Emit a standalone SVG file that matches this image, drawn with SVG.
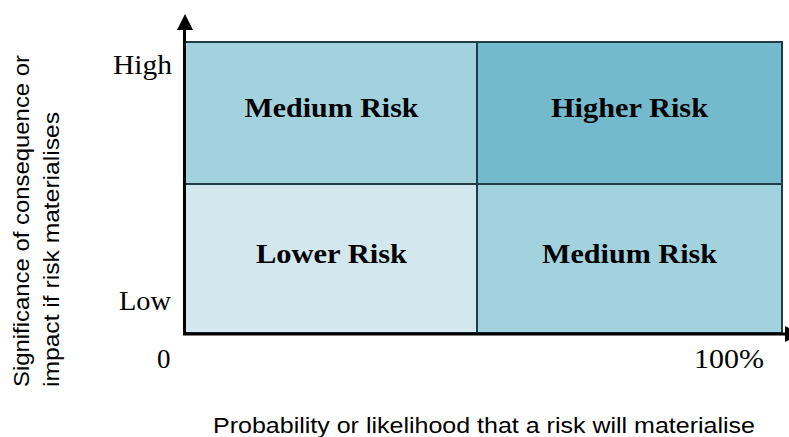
<svg xmlns="http://www.w3.org/2000/svg" width="789" height="437" viewBox="0 0 789 437">
<style>
.cell{stroke:#1e3d47;stroke-width:2}
.lbl{font-family:"Liberation Serif",serif;font-weight:bold;font-size:28px;fill:#000;text-anchor:middle}
.tick{font-family:"Liberation Serif",serif;font-size:27px;fill:#000}
.ttl{font-family:"Liberation Sans",sans-serif;font-size:22px;fill:#000}
.axis{stroke:#000;stroke-width:3;fill:none}
</style>
<rect width="789" height="437" fill="#fff"/>
<g id="cell-tl"><rect class="cell" x="185" y="42" width="292" height="142" fill="#a3d2df"/><text class="lbl" x="331.5" y="117" textLength="174" lengthAdjust="spacingAndGlyphs">Medium Risk</text></g>
<g id="cell-tr"><rect class="cell" x="477" y="42" width="305" height="142" fill="#73bacd"/><text class="lbl" x="629.5" y="117" textLength="157" lengthAdjust="spacingAndGlyphs">Higher Risk</text></g>
<g id="cell-bl"><rect class="cell" x="185" y="184" width="292" height="149" fill="#d2e8ee"/><text class="lbl" x="331.5" y="263" textLength="151" lengthAdjust="spacingAndGlyphs">Lower Risk</text></g>
<g id="cell-br"><rect class="cell" x="477" y="184" width="305" height="149" fill="#a3d2df"/><text class="lbl" x="629.5" y="263" textLength="175" lengthAdjust="spacingAndGlyphs">Medium Risk</text></g>
<g id="axes">
<line class="axis" x1="184.5" y1="28" x2="184.5" y2="335"/>
<polygon points="177,30 185,14 193,30" fill="#000"/>
<line class="axis" x1="183" y1="334" x2="787" y2="334"/>
<polygon points="785,326 801,334 785,342" fill="#000"/>
</g>
<g id="ticks">
<text class="tick" x="113" y="74" textLength="59" lengthAdjust="spacingAndGlyphs">High</text>
<text class="tick" x="119" y="310" textLength="52" lengthAdjust="spacingAndGlyphs">Low</text>
<text class="tick" x="157" y="368">0</text>
<text class="tick" x="694" y="368" textLength="70" lengthAdjust="spacingAndGlyphs">100%</text>
</g>
<g id="titles">
<text class="ttl" x="213" y="433" textLength="542" lengthAdjust="spacingAndGlyphs">Probability or likelihood that a risk will materialise</text>
<text class="ttl" transform="translate(29,387) rotate(-90)" textLength="332" lengthAdjust="spacingAndGlyphs">Significance of consequence or</text>
<text class="ttl" transform="translate(59,387) rotate(-90)" textLength="275" lengthAdjust="spacingAndGlyphs">impact if risk materialises</text>
</g>
</svg>
